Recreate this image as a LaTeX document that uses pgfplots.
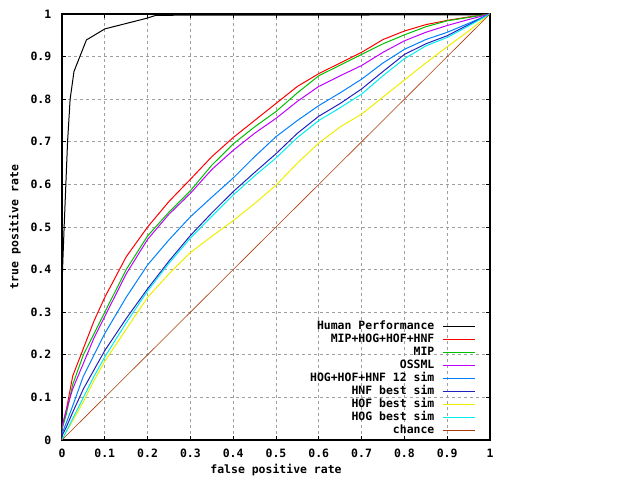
\documentclass[border=0pt]{standalone}
\usepackage{fontspec}
\setmainfont{DejaVu Sans Mono}
\usepackage{pgfplots}
\pgfplotsset{compat=1.18}

\definecolor{gpgreen}{RGB}{0,192,0}
\definecolor{gppurple}{RGB}{192,0,255}
\definecolor{gpblue}{RGB}{0,128,255}
\definecolor{gpnavy}{RGB}{32,32,192}
\definecolor{gpyellow}{RGB}{238,238,0}
\definecolor{gpcyan}{RGB}{0,238,238}
\definecolor{gpbrown}{RGB}{170,60,10}

\newcommand{\gpfont}{\fontsize{8.6}{10}\selectfont\bfseries}

\begin{document}
\begin{tikzpicture}
\begin{axis}[
    scale only axis,
    width=321pt, height=319.5pt,
    xmin=0, xmax=1, ymin=0, ymax=1,
    xtick={0,0.1,...,1}, ytick={0,0.1,...,1},
    tick align=inside,
    major tick length=3pt,
    tick style={black, line width=0.6pt},
    axis line style={black, line width=1pt},
    grid=major,
    major grid style={gray!75, line width=0.6pt, dash pattern=on 2.25pt off 2.25pt},
    /pgf/number format/assume math mode=true,
    ticklabel style={font=\gpfont},
    xticklabel style={yshift=-3pt},
    yticklabel style={xshift=-4.5pt},
    xlabel={false positive rate},
    ylabel={true positive rate},
    label style={font=\gpfont},
    xlabel style={at={(axis description cs:0.5,-0.0704)}, anchor=center},
    ylabel style={at={(axis description cs:-0.1098,0.5)}, anchor=center, rotate=0},
    every axis plot/.append style={line width=0.75pt},
    legend image code/.code={\draw[#1] (0pt,0pt) -- (24pt,0pt);},
    legend cell align=right,
    legend plot pos=right,
    legend style={draw=none, fill=none, inner sep=0pt, font=\gpfont,
        at={(1,0)}, anchor=south east, xshift=-11pt, yshift=2pt,
        column sep=5pt, row sep=0pt,
        nodes={inner sep=0.75pt, text height=6.5pt, text depth=1.75pt}},
]
% Human Performance
\addplot[black] coordinates {
 (0,0.165) (0,0.36) (0.002,0.42) (0.005,0.5) (0.009,0.6) (0.013,0.70)
 (0.019,0.80) (0.028,0.865) (0.057,0.939) (0.1,0.965) (0.198,0.99)
 (0.22,0.997) (1,0.998)
};
\addlegendentry{Human Performance}
% MIP+HOG+HOF+HNF
\addplot[red] coordinates {
 (0,0) (0,0.03) (0.01,0.07) (0.025,0.15) (0.05,0.215) (0.075,0.28)
 (0.1,0.335) (0.15,0.43) (0.2,0.50) (0.25,0.56) (0.3,0.612) (0.35,0.665)
 (0.4,0.71) (0.45,0.75) (0.5,0.79) (0.55,0.83) (0.6,0.86) (0.65,0.885)
 (0.7,0.91) (0.75,0.94) (0.8,0.96) (0.85,0.975) (0.9,0.985) (0.95,0.993) (1,1)
};
\addlegendentry{MIP+HOG+HOF+HNF}
% MIP
\addplot[gpgreen] coordinates {
 (0,0) (0,0.025) (0.01,0.06) (0.025,0.13) (0.05,0.20) (0.075,0.25)
 (0.1,0.30) (0.15,0.40) (0.2,0.479) (0.25,0.535) (0.3,0.585) (0.35,0.645)
 (0.4,0.695) (0.45,0.735) (0.5,0.771) (0.55,0.815) (0.6,0.855) (0.65,0.88)
 (0.7,0.905) (0.75,0.93) (0.8,0.951) (0.85,0.97) (0.9,0.984) (0.95,0.992) (1,1)
};
\addlegendentry{MIP}
% OSSML
\addplot[gppurple] coordinates {
 (0,0) (0,0.03) (0.01,0.07) (0.025,0.12) (0.05,0.18) (0.075,0.24)
 (0.1,0.29) (0.15,0.39) (0.2,0.471) (0.25,0.53) (0.3,0.579) (0.35,0.635)
 (0.4,0.68) (0.45,0.72) (0.5,0.755) (0.55,0.795) (0.6,0.83) (0.65,0.855)
 (0.7,0.879) (0.75,0.91) (0.8,0.937) (0.85,0.957) (0.9,0.973) (0.95,0.987) (1,1)
};
\addlegendentry{OSSML}
% HOG+HOF+HNF 12 sim
\addplot[gpblue] coordinates {
 (0,0) (0,0.015) (0.01,0.04) (0.025,0.08) (0.05,0.15) (0.075,0.20)
 (0.1,0.25) (0.15,0.335) (0.2,0.411) (0.25,0.47) (0.3,0.524) (0.35,0.57)
 (0.4,0.615) (0.45,0.665) (0.5,0.712) (0.55,0.75) (0.6,0.785) (0.65,0.815)
 (0.7,0.847) (0.75,0.885) (0.8,0.917) (0.85,0.94) (0.9,0.957) (0.95,0.978) (1,1)
};
\addlegendentry{HOG+HOF+HNF 12 sim}
% HNF best sim
\addplot[gpnavy] coordinates {
 (0,0) (0,0.01) (0.01,0.03) (0.025,0.065) (0.05,0.12) (0.075,0.165)
 (0.1,0.21) (0.15,0.285) (0.2,0.355) (0.25,0.42) (0.3,0.48) (0.35,0.533)
 (0.4,0.583) (0.45,0.628) (0.5,0.672) (0.55,0.72) (0.6,0.76) (0.65,0.79)
 (0.7,0.824) (0.75,0.865) (0.8,0.905) (0.85,0.93) (0.9,0.949) (0.95,0.975) (1,1)
};
\addlegendentry{HNF best sim}
% HOF best sim
\addplot[gpyellow] coordinates {
 (0,0) (0.01,0.02) (0.025,0.045) (0.05,0.09) (0.075,0.14)
 (0.1,0.185) (0.15,0.26) (0.2,0.335) (0.25,0.39) (0.3,0.44) (0.35,0.478)
 (0.4,0.515) (0.45,0.555) (0.5,0.598) (0.55,0.65) (0.6,0.697) (0.65,0.735)
 (0.7,0.765) (0.75,0.805) (0.8,0.845) (0.85,0.885) (0.9,0.923) (0.95,0.96) (1,1)
};
\addlegendentry{HOF best sim}
% HOG best sim
\addplot[gpcyan] coordinates {
 (0,0) (0.01,0.02) (0.025,0.05) (0.05,0.10) (0.075,0.15)
 (0.1,0.195) (0.15,0.275) (0.2,0.35) (0.25,0.415) (0.3,0.474) (0.35,0.525)
 (0.4,0.575) (0.45,0.62) (0.5,0.662) (0.55,0.71) (0.6,0.75) (0.65,0.78)
 (0.7,0.812) (0.75,0.855) (0.8,0.895) (0.85,0.925) (0.9,0.945) (0.95,0.972) (1,1)
};
\addlegendentry{HOG best sim}
% chance
\addplot[gpbrown, line width=0.45pt] coordinates {(0,0) (1,1)};
\addlegendentry{chance}
\end{axis}
\path (current axis.south west) ++(-46.5pt,-30pt) rectangle (current axis.north east) ++(112.5pt,10.5pt);
\end{tikzpicture}
\end{document}
